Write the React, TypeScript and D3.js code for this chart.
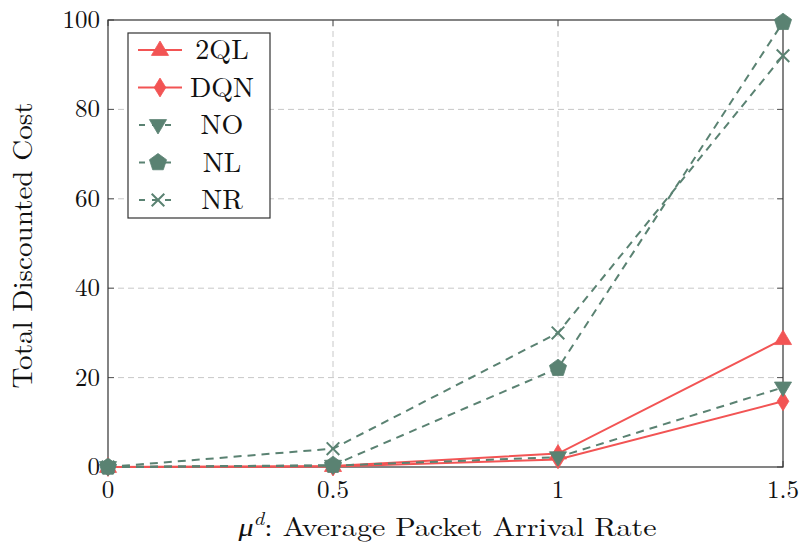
import { useEffect, useRef } from 'react';
import * as d3 from 'd3';

const X_VALUES = [0, 0.5, 1, 1.5];
const X_TICKS = [0, 0.5, 1, 1.5];
const Y_TICKS = [0, 20, 40, 60, 80, 100];

const QL2 = [0, 0.2, 3, 28.6];
const DQN = [0, 0.1, 1.7, 14.7];
const NO = [0, 0.3, 2.2, 17.8];
const NL = [0, 0.4, 22.1, 99.5];
const NR = [0, 4.1, 30, 92];

const RED = '#f25454';
const GREEN = '#5a8272';

type Marker = 'triangle' | 'diamond' | 'itriangle' | 'pentagon' | 'cross';

const SERIES: { name: string; values: number[]; color: string; dashed: boolean; marker: Marker }[] = [
  { name: '2QL', values: QL2, color: RED, dashed: false, marker: 'triangle' },
  { name: 'DQN', values: DQN, color: RED, dashed: false, marker: 'diamond' },
  { name: 'NO', values: NO, color: GREEN, dashed: true, marker: 'itriangle' },
  { name: 'NL', values: NL, color: GREEN, dashed: true, marker: 'pentagon' },
  { name: 'NR', values: NR, color: GREEN, dashed: true, marker: 'cross' },
];

const W = 803;
const H = 550;
const M = { left: 108, right: 20, top: 20, bottom: 83 };
const FONT = '"Latin Modern Roman", "CMU Serif", serif';

function markerPath(m: Marker, r: number): string {
  const poly = (pts: [number, number][]) => 'M' + pts.map((p) => p.join(',')).join('L') + 'Z';
  if (m === 'triangle') return poly([[0, -r], [r * 0.95, r * 0.6], [-r * 0.95, r * 0.6]]);
  if (m === 'itriangle') return poly([[0, r], [r * 0.95, -r * 0.6], [-r * 0.95, -r * 0.6]]);
  if (m === 'diamond') return poly([[0, -r * 1.05], [r * 0.65, 0], [0, r * 1.05], [-r * 0.65, 0]]);
  if (m === 'pentagon') {
    const pts: [number, number][] = d3.range(5).map((i) => {
      const a = -Math.PI / 2 + (i * 2 * Math.PI) / 5;
      return [r * Math.cos(a), r * Math.sin(a)];
    });
    return poly(pts);
  }
  const c = r * 0.7;
  return `M${-c},${-c}L${c},${c}M${-c},${c}L${c},${-c}`;
}

export default function App() {
  const svgRef = useRef<SVGSVGElement>(null);

  useEffect(() => {
    const svg = d3.select(svgRef.current);
    svg.selectAll('*').remove();

    const innerW = W - M.left - M.right;
    const innerH = H - M.top - M.bottom;

    const x = d3.scaleLinear().domain([0, 1.5]).range([M.left, M.left + innerW]);
    const y = d3.scaleLinear().domain([0, 100]).range([M.top + innerH, M.top]);

    // grid
    const grid = svg.append('g').attr('stroke', '#c8c8c8').attr('stroke-width', 1).attr('stroke-dasharray', '6,4');
    X_TICKS.slice(1, -1).forEach((t) => {
      grid.append('line').attr('x1', x(t)).attr('x2', x(t)).attr('y1', y(0)).attr('y2', y(100));
    });
    Y_TICKS.slice(1, -1).forEach((t) => {
      grid.append('line').attr('x1', x(0)).attr('x2', x(1.5)).attr('y1', y(t)).attr('y2', y(t));
    });

    // ticks on all sides
    const ticks = svg.append('g').attr('stroke', '#555').attr('stroke-width', 1);
    X_TICKS.forEach((t) => {
      ticks.append('line').attr('x1', x(t)).attr('x2', x(t)).attr('y1', y(0)).attr('y2', y(0) - 6);
      ticks.append('line').attr('x1', x(t)).attr('x2', x(t)).attr('y1', y(100)).attr('y2', y(100) + 6);
    });
    Y_TICKS.forEach((t) => {
      ticks.append('line').attr('x1', x(0)).attr('x2', x(0) + 6).attr('y1', y(t)).attr('y2', y(t));
      ticks.append('line').attr('x1', x(1.5)).attr('x2', x(1.5) - 6).attr('y1', y(t)).attr('y2', y(t));
    });

    svg.append('rect')
      .attr('x', x(0)).attr('y', y(100))
      .attr('width', innerW).attr('height', innerH)
      .attr('fill', 'none').attr('stroke', '#333').attr('stroke-width', 1.2);

    // tick labels
    const labels = svg.append('g').attr('font-family', FONT).attr('font-size', 25).attr('fill', '#111');
    X_TICKS.forEach((t) => {
      labels.append('text').attr('x', x(t)).attr('y', y(0) + 31).attr('text-anchor', 'middle').text(String(t));
    });
    Y_TICKS.forEach((t) => {
      labels.append('text').attr('x', x(0) - 8).attr('y', y(t) + 8).attr('text-anchor', 'end').text(String(t));
    });

    // series
    const line = d3.line<number>().x((_, i) => x(X_VALUES[i])).y((d) => y(d));
    SERIES.forEach((s) => {
      svg.append('path')
        .attr('d', line(s.values))
        .attr('fill', 'none')
        .attr('stroke', s.color)
        .attr('stroke-width', 2)
        .attr('stroke-dasharray', s.dashed ? '8,6' : null);
    });
    SERIES.forEach((s) => {
      s.values.forEach((v, i) => {
        svg.append('path')
          .attr('transform', `translate(${x(X_VALUES[i])},${y(v)})`)
          .attr('d', markerPath(s.marker, 9))
          .attr('fill', s.marker === 'cross' ? 'none' : s.color)
          .attr('stroke', s.color)
          .attr('stroke-width', s.marker === 'cross' ? 2 : 0.8);
      });
    });

    // axis titles
    svg.append('text')
      .attr('transform', `translate(32,${M.top + innerH / 2 + 2}) rotate(-90)`)
      .attr('text-anchor', 'middle')
      .attr('font-family', FONT).attr('font-size', 28).attr('fill', '#111')
      .attr('textLength', 286).attr('lengthAdjust', 'spacingAndGlyphs')
      .text('Total Discounted Cost');

    const xt = svg.append('text')
      .attr('x', M.left + innerW / 2 + 2).attr('y', 536)
      .attr('text-anchor', 'middle')
      .attr('font-family', FONT).attr('font-size', 26).attr('fill', '#111')
      .attr('textLength', 418).attr('lengthAdjust', 'spacingAndGlyphs');
    xt.append('tspan').attr('font-style', 'italic').text('μ');
    xt.append('tspan').attr('font-style', 'italic').attr('font-size', 18).attr('dy', -11).text('d');
    xt.append('tspan').attr('dy', 11).text(': Average Packet Arrival Rate');

    // legend
    const lg = svg.append('g').attr('transform', 'translate(128,33)');
    lg.append('rect').attr('width', 142).attr('height', 185).attr('fill', 'white').attr('stroke', '#333').attr('stroke-width', 1.2);
    SERIES.forEach((s, i) => {
      const cy = 17 + i * 37.5;
      lg.append('line')
        .attr('x1', 10).attr('x2', s.dashed ? 50 : 54)
        .attr('y1', cy).attr('y2', cy)
        .attr('stroke', s.color).attr('stroke-width', 2)
        .attr('stroke-dasharray', s.dashed ? '6,7' : null)
        .attr('stroke-dashoffset', s.dashed ? -1 : 0);
      lg.append('path')
        .attr('transform', `translate(${s.dashed ? 30 : 32},${cy})`)
        .attr('d', markerPath(s.marker, 9))
        .attr('fill', s.marker === 'cross' ? 'none' : s.color)
        .attr('stroke', s.color)
        .attr('stroke-width', s.marker === 'cross' ? 2 : 0.8);
      lg.append('text')
        .attr('x', 94).attr('y', cy + 9)
        .attr('text-anchor', 'middle')
        .attr('font-family', FONT).attr('font-size', 28).attr('fill', '#111')
        .text(s.name);
    });
  }, []);

  return (
    <div style={{ position: 'absolute', left: 0, top: 0 }}>
      <svg ref={svgRef} width={W} height={H} style={{ display: 'block', background: 'white' }} />
    </div>
  );
}
